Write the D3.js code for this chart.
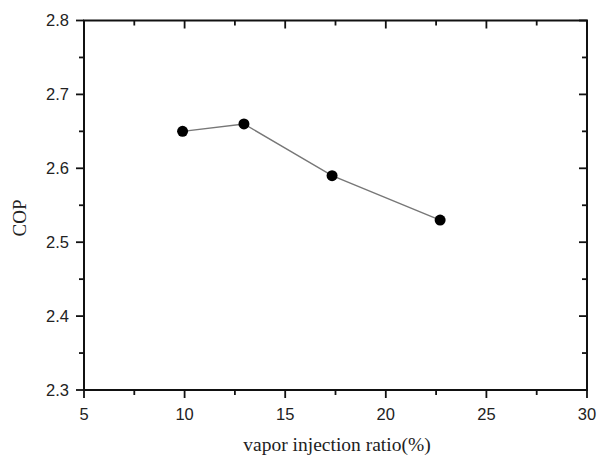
<!DOCTYPE html>
<html>
  <head>
    <script src="https://cdnjs.cloudflare.com/ajax/libs/d3/7.8.5/d3.min.js"></script>
    <style>
      body { margin: 0; background: #fff; }
    </style>
  </head>
  <body>
    <svg width="597" height="459"></svg>
    <script>
      // data
      const ratio = [9.9, 12.95, 17.33, 22.7]
      const cop = [2.65, 2.66, 2.59, 2.53]
      const xTicks = [5, 10, 15, 20, 25, 30]
      const yTicks = [2.3, 2.4, 2.5, 2.6, 2.7, 2.8]

      const svg = d3.select('svg')
      const plotL = 84, plotR = 587, plotT = 20.5, plotB = 390

      const x = d3.scaleLinear().domain([5, 30]).range([plotL, plotR])
      const y = d3.scaleLinear().domain([2.3, 2.8]).range([plotB, plotT])

      const xMinor = d3.range(7.5, 30, 5)
      const yMinor = d3.range(2.35, 2.8, 0.1)

      // frame
      svg.append('rect')
        .attr('x', plotL).attr('y', plotT)
        .attr('width', plotR - plotL).attr('height', plotB - plotT)
        .attr('fill', 'none').attr('stroke', '#111').attr('stroke-width', 2)

      const g = svg.append('g').attr('stroke', '#111').attr('stroke-width', 1.8)

      // bottom ticks outward, top ticks inward
      xTicks.forEach(t => {
        g.append('line').attr('x1', x(t)).attr('x2', x(t)).attr('y1', plotB).attr('y2', plotB + 8)
        g.append('line').attr('x1', x(t)).attr('x2', x(t)).attr('y1', plotT).attr('y2', plotT + 8)
      })
      xMinor.forEach(t => {
        g.append('line').attr('x1', x(t)).attr('x2', x(t)).attr('y1', plotB).attr('y2', plotB + 5)
        g.append('line').attr('x1', x(t)).attr('x2', x(t)).attr('y1', plotT).attr('y2', plotT + 5)
      })
      // left ticks outward, right ticks inward
      yTicks.forEach(t => {
        g.append('line').attr('y1', y(t)).attr('y2', y(t)).attr('x1', plotL).attr('x2', plotL - 8)
        g.append('line').attr('y1', y(t)).attr('y2', y(t)).attr('x1', plotR).attr('x2', plotR - 8)
      })
      yMinor.forEach(t => {
        g.append('line').attr('y1', y(t)).attr('y2', y(t)).attr('x1', plotL).attr('x2', plotL - 5)
        g.append('line').attr('y1', y(t)).attr('y2', y(t)).attr('x1', plotR).attr('x2', plotR - 5)
      })

      // tick labels
      svg.append('g').selectAll('text').data(xTicks).enter().append('text')
        .attr('x', d => x(d)).attr('y', plotB + 30)
        .attr('text-anchor', 'middle')
        .attr('font-family', 'Liberation Sans, Arial, sans-serif').attr('font-size', 16.5)
        .attr('fill', '#222')
        .text(d => d)

      svg.append('g').selectAll('text').data(yTicks).enter().append('text')
        .attr('x', plotL - 15).attr('y', d => y(d))
        .attr('dy', '0.35em')
        .attr('text-anchor', 'end')
        .attr('font-family', 'Liberation Sans, Arial, sans-serif').attr('font-size', 16.5)
        .attr('fill', '#222')
        .text(d => d.toFixed(1))

      // axis titles
      svg.append('text')
        .attr('x', 337).attr('y', 451)
        .attr('text-anchor', 'middle')
        .attr('font-family', 'Liberation Serif, Times New Roman, serif').attr('font-size', 19.5)
        .attr('fill', '#222')
        .text('vapor injection ratio(%)')

      svg.append('text')
        .attr('transform', 'translate(26,218) rotate(-90)')
        .attr('text-anchor', 'middle')
        .attr('font-family', 'Liberation Serif, Times New Roman, serif').attr('font-size', 19)
        .attr('fill', '#222')
        .text('COP')

      // series
      const pts = ratio.map((r, i) => ({ r, c: cop[i] }))
      const line = d3.line().x(d => x(d.r)).y(d => y(d.c))

      svg.append('path')
        .datum(pts)
        .attr('d', line)
        .attr('fill', 'none')
        .attr('stroke', '#777')
        .attr('stroke-width', 1.4)

      svg.append('g').selectAll('circle').data(pts).enter().append('circle')
        .attr('cx', d => x(d.r)).attr('cy', d => y(d.c))
        .attr('r', 5.5)
        .attr('fill', '#000')
    </script>
  </body>
</html>
